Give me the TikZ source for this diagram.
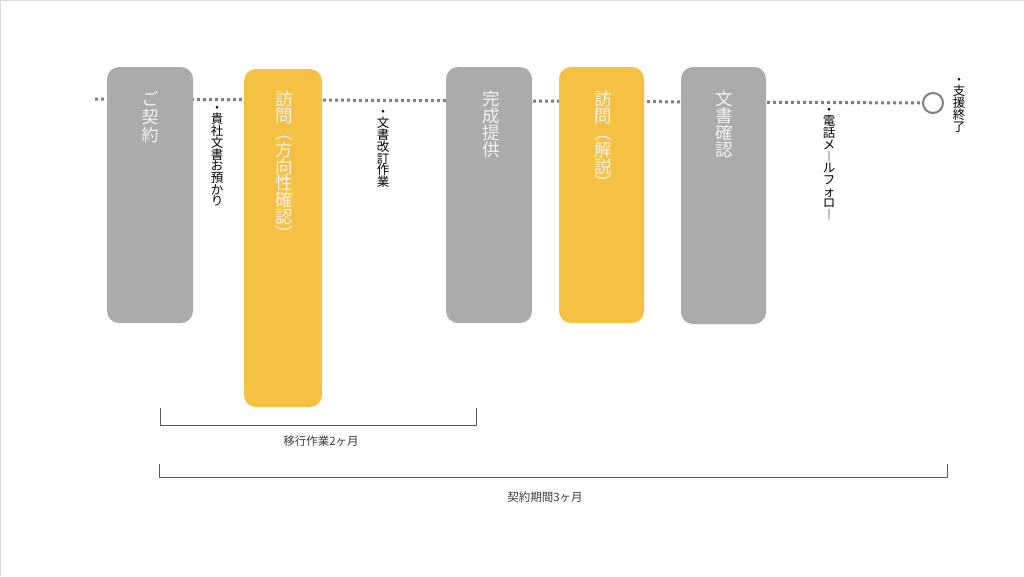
\documentclass[tikz,border=0pt]{standalone}
\usepackage{fontspec}
\setmainfont{Noto Sans CJK JP}
\usetikzlibrary{positioning}
\definecolor{boxgray}{HTML}{ABABAB}
\definecolor{boxyellow}{HTML}{F5C142}
\definecolor{dotgray}{HTML}{7F7F7F}
\definecolor{brgray}{HTML}{595959}
\definecolor{lblnavy}{HTML}{3A3A4A}
\definecolor{edgegray}{HTML}{D9D9D9}

\begin{document}
\begin{tikzpicture}[x=1pt,y=-1pt,
  stepbox/.style={draw=none,rounded corners=12pt,minimum width=86pt,minimum height=256pt,inner sep=0pt},
  greybox/.style={stepbox,fill=boxgray},
  yellowbox/.style={stepbox,fill=boxyellow},
  boxtext/.style={text=white!95!black,align=center,anchor=north,inner sep=0pt,font=\fontsize{17.5}{16.8}\selectfont},
  note/.style={align=center,anchor=north,inner sep=0pt,font=\fontsize{12.5}{11.7}\selectfont},
  span/.style={text=lblnavy,inner sep=0pt,font=\fontsize{11.5}{12}\selectfont}]

  % Page (size and slide edge)
  \fill[white] (0,0) rectangle (1024,576);
  \useasboundingbox (0,0) rectangle (1024,576);
  \draw[edgegray,line width=1pt] (0.5,576) -- (0.5,0.5) -- (1024,0.5);

  % Timeline (drawn first, the boxes cover it)
  \coordinate (l0) at (95,99);
  \node[circle,draw=dotgray,line width=2pt,fill=white,minimum size=20pt,inner sep=0pt] (e) at (933,103) {};
  \draw[dotgray,line width=3pt,dash pattern=on 3pt off 3pt] (l0) -- (e.west);

  % Specification of steps (position, etc.)
  \node[greybox] (s0) at (150,195) {};
  \node[yellowbox,minimum width=78pt,minimum height=338pt] (s1) at (283,238) {};
  \node[greybox] (s2) at (489,195) {};
  \node[yellowbox,minimum width=85pt] (s3) at (601.5,195) {};
  \node[greybox,minimum width=85pt,minimum height=257pt] (s4) at (723.5,195.5) {};

  % Step texts (vertical)
  \node[boxtext,font=\fontsize{17}{18.2}\selectfont] (t0) at (150,91) {ご\\契\\約};
  \node[boxtext] (t1) at (284,91) {訪\\問\\︵\\方\\向\\性\\確\\認\\︶};
  \node[boxtext] (t2) at (491,91) {完\\成\\提\\供};
  \node[boxtext] (t3) at (603,91) {訪\\問\\︵\\解\\説\\︶};
  \node[boxtext] (t4) at (724,91) {文\\書\\確\\認};

  % Notes between steps
  \node[note] (n0) at (217,106) {・\\貴\\社\\文\\書\\お\\預\\か\\り};
  \node[note] (n1) at (383,110) {・\\文\\書\\改\\訂\\作\\業};
  \node[note] (n2) at (829,108) {・\\電\\話\\メ\\︱\\ル\\フ\\ォ\\ロ\\︱};
  \node[note] (n3) at (959,78) {・\\支\\援\\終\\了};

  % Spans
  \coordinate (a0) at (160,408);
  \coordinate (a1) at (476,408);
  \coordinate (b0) at (159,464);
  \coordinate (b1) at (947,464);
  \begin{scope}[brgray,line width=0.8pt]
    \draw (a0) -- ++(0,17) -| (a1);
    \draw (b0) -- ++(0,13) -| (b1);
  \end{scope}
  \node[span] (m0) at (321,441) {移行作業2ヶ月};
  \node[span] (m1) at (545,497) {契約期間3ヶ月};

\end{tikzpicture}
\end{document}
